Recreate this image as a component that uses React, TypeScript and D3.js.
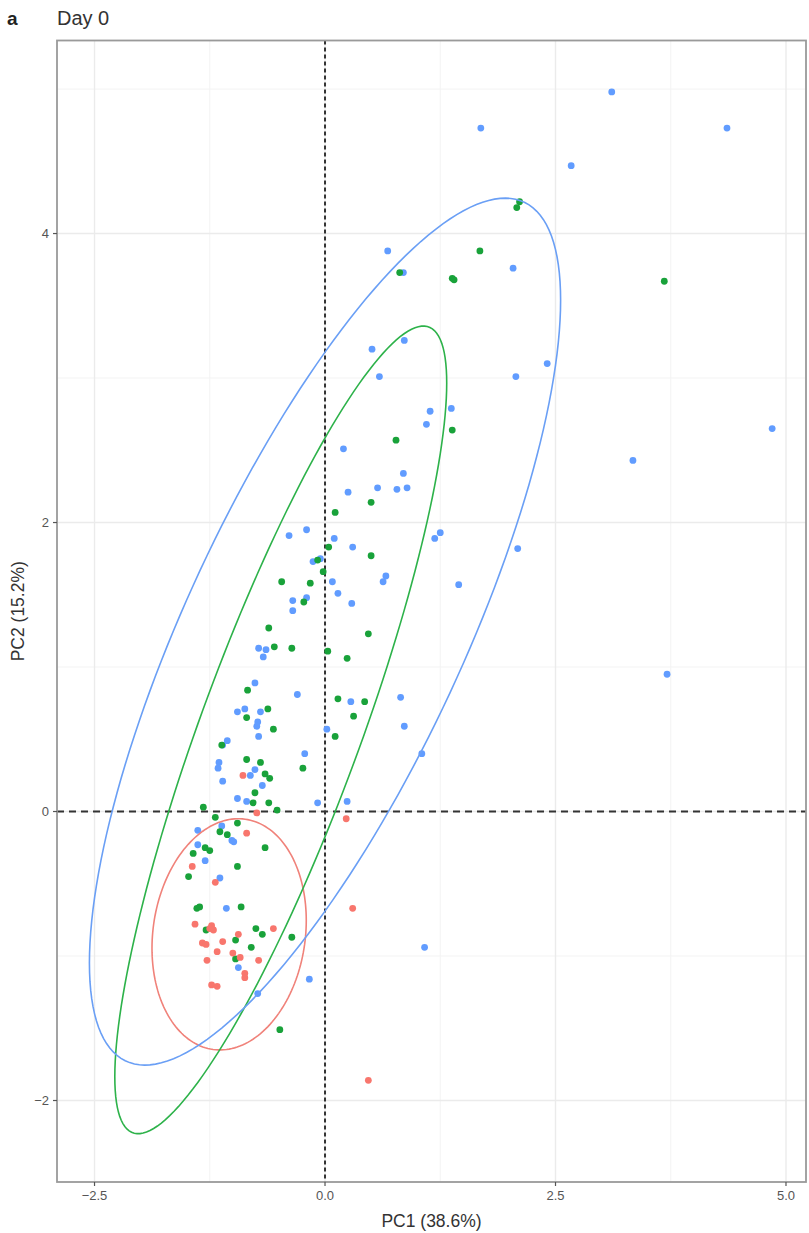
import React from 'react';
import * as d3 from 'd3';

// PC scores, one list per group
const redPoints: [number, number][] = [
  [-0.89, 0.25], [-0.74, -0.01], [0.23, -0.05], [-0.85, -0.15], [-1.44, -0.38],
  [-1.19, -0.49], [0.3, -0.67], [-1.41, -0.78], [-1.23, -0.79], [-1.25, -0.81],
  [-1.21, -0.82], [-0.56, -0.81], [-1.33, -0.91], [-1.29, -0.92], [-1.11, -0.9],
  [-0.94, -0.85], [-1.17, -0.97], [-1.0, -0.98], [-0.92, -1.01], [-1.28, -1.03],
  [-0.72, -1.03], [-0.87, -1.12], [-0.87, -1.15], [-1.23, -1.2], [-1.17, -1.21],
  [0.47, -1.86],
];

const greenPoints: [number, number][] = [
  [3.68, 3.67], [2.08, 4.18], [2.11, 4.22], [1.68, 3.88], [0.81, 3.73],
  [1.38, 3.69], [1.4, 3.68], [1.38, 2.64], [0.77, 2.57], [0.5, 2.14],
  [0.11, 2.07], [0.04, 1.83], [0.5, 1.77], [-0.08, 1.74], [-0.02, 1.66],
  [-0.16, 1.58], [-0.47, 1.59], [-0.23, 1.45], [-0.61, 1.27], [-0.55, 1.14],
  [-0.36, 1.13], [0.03, 1.11], [0.24, 1.06], [0.47, 1.23], [-0.84, 0.84],
  [-0.85, 0.65], [-0.62, 0.71], [-0.56, 0.57], [0.14, 0.78], [0.43, 0.76],
  [0.31, 0.66], [0.11, 0.52], [-1.12, 0.46], [-0.24, 0.3], [-0.85, 0.36],
  [-0.7, 0.34], [-0.65, 0.26], [-0.6, 0.23], [-0.76, 0.13], [-0.78, 0.06],
  [-0.61, 0.06], [-0.52, 0.01], [-1.32, 0.03], [-1.19, -0.04], [-0.95, -0.08],
  [-1.14, -0.14], [-1.06, -0.16], [-1.3, -0.25], [-1.25, -0.27], [-1.43, -0.29],
  [-0.65, -0.25], [-0.95, -0.38], [-1.48, -0.45], [-1.39, -0.67], [-1.36, -0.66],
  [-0.91, -0.66], [-1.29, -0.82], [-0.75, -0.81], [-0.68, -0.85], [-0.36, -0.87],
  [-0.97, -0.89], [-0.8, -0.94], [-0.97, -1.02], [-0.49, -1.51],
];

const bluePoints: [number, number][] = [
  [3.11, 4.98], [4.36, 4.73], [2.67, 4.47], [1.69, 4.73], [4.85, 2.65],
  [3.34, 2.43], [3.71, 0.95], [0.68, 3.88], [2.04, 3.76], [0.85, 3.73],
  [0.86, 3.26], [0.51, 3.2], [0.59, 3.01], [2.07, 3.01], [2.41, 3.1],
  [1.14, 2.77], [1.37, 2.79], [1.1, 2.68], [0.2, 2.51], [0.85, 2.34],
  [0.25, 2.21], [0.57, 2.24], [0.78, 2.23], [0.89, 2.24], [-0.2, 1.95],
  [0.1, 1.89], [0.3, 1.83], [1.19, 1.89], [1.25, 1.93], [2.09, 1.82],
  [-0.13, 1.73], [-0.05, 1.75], [0.08, 1.59], [0.63, 1.59], [0.66, 1.63],
  [1.45, 1.57], [0.14, 1.51], [-0.2, 1.48], [0.29, 1.44], [-0.39, 1.91],
  [-0.35, 1.46], [-0.35, 1.39], [-0.72, 1.13], [-0.64, 1.12], [-0.67, 1.07],
  [-0.76, 0.89], [-0.3, 0.81], [-0.95, 0.69], [-0.87, 0.71], [-0.7, 0.69],
  [-0.73, 0.62], [-0.74, 0.59], [-0.72, 0.52], [0.28, 0.76], [0.82, 0.79],
  [0.86, 0.59], [0.02, 0.57], [1.05, 0.4], [-1.06, 0.49], [-1.11, 0.46],
  [-0.22, 0.4], [-1.15, 0.34], [-1.16, 0.3], [-1.11, 0.21], [-0.81, 0.25],
  [-0.76, 0.29], [-0.68, 0.18], [-0.95, 0.09], [-0.85, 0.07], [-0.08, 0.06],
  [0.24, 0.07], [-1.38, -0.13], [-1.12, -0.1], [-1.01, -0.2], [-0.99, -0.21],
  [-1.38, -0.23], [-1.3, -0.34], [-1.14, -0.46], [-1.07, -0.67], [-0.94, -1.08],
  [-0.73, -1.26], [-0.17, -1.16], [1.08, -0.94],
];

// confidence ellipses: centre and covariance-like shape terms (data units)
const ellipses = [
  { group: 'red', cx: -1.04, cy: -0.85, sxx: 0.70, syy: 0.64, sxy: 0.08 },
  { group: 'green', cx: -0.48, cy: 0.565, sxx: 3.24, syy: 7.81, sxy: 4.32 },
  { group: 'blue', cx: 0.0, cy: 1.245, sxx: 6.53, syy: 9.0, sxy: 5.86 },
];

const xTicks = [-2.5, 0, 2.5, 5];
const yTicks = [-2, 0, 2, 4];
const xMinor = [-1.25, 1.25, 3.75];
const yMinor = [-1, 1, 3, 5];

const pointColors: Record<string, string> = {
  red: '#F8766D',
  green: '#19A23A',
  blue: '#619CFF',
};
const lineColors: Record<string, string> = {
  red: '#F0827A',
  green: '#2DB24A',
  blue: '#6A9FF5',
};

const W = 809;
const H = 1233;
const margin = { top: 40.5, right: 3, bottom: 51, left: 57 };

const App = () => {
  const x = d3.scaleLinear().domain([-2.907, 5.217]).range([margin.left, W - margin.right]);
  const y = d3.scaleLinear().domain([-2.564, 5.336]).range([H - margin.bottom, margin.top]);
  const [x0, x1] = x.range();
  const [y0, y1] = y.range();

  const line = d3
    .line<[number, number]>()
    .x((d) => x(d[0]))
    .y((d) => y(d[1]))
    .curve(d3.curveLinearClosed);

  const ellipsePath = (e: (typeof ellipses)[number]) => {
    const a = Math.sqrt(e.sxx);
    const c = e.sxy / a;
    const dd = Math.sqrt(Math.max(e.syy - c * c, 0));
    const pts = d3.range(0, 2 * Math.PI, Math.PI / 90).map(
      (t) => [e.cx + a * Math.cos(t), e.cy + c * Math.cos(t) + dd * Math.sin(t)] as [number, number]
    );
    return line(pts) || '';
  };

  const font = '"Liberation Sans", Arial, sans-serif';
  const groups: [string, [number, number][]][] = [
    ['blue', bluePoints],
    ['green', greenPoints],
    ['red', redPoints],
  ];

  return (
    <div style={{ position: 'absolute', left: 0, top: 0 }}>
      <svg width={W} height={H} style={{ display: 'block', background: '#fff' }}>
        <text x={7} y={25} fontFamily={font} fontWeight="bold" fontSize={19} fill="#222">
          a
        </text>
        <text x={57} y={25} fontFamily={font} fontSize={20} fill="#333">
          Day 0
        </text>

        {/* grid */}
        {xMinor.map((v) => (
          <line key={'xm' + v} x1={x(v)} x2={x(v)} y1={y1} y2={y0} stroke="#f3f3f3" strokeWidth={1} />
        ))}
        {yMinor.map((v) => (
          <line key={'ym' + v} x1={x0} x2={x1} y1={y(v)} y2={y(v)} stroke="#f3f3f3" strokeWidth={1} />
        ))}
        {xTicks.map((v) => (
          <line key={'xg' + v} x1={x(v)} x2={x(v)} y1={y1} y2={y0} stroke="#ebebeb" strokeWidth={1.4} />
        ))}
        {yTicks.map((v) => (
          <line key={'yg' + v} x1={x0} x2={x1} y1={y(v)} y2={y(v)} stroke="#ebebeb" strokeWidth={1.4} />
        ))}

        {/* reference lines */}
        <line x1={x0} x2={x1} y1={y(0)} y2={y(0)} stroke="#333" strokeWidth={2} strokeDasharray="7 5" />
        <line x1={x(0)} x2={x(0)} y1={y1} y2={y0} stroke="#333" strokeWidth={2} strokeDasharray="4 3" />

        {/* points */}
        {groups.map(([g, pts]) =>
          pts.map((p, i) => <circle key={g + i} cx={x(p[0])} cy={y(p[1])} r={3.4} fill={pointColors[g]} />)
        )}

        {/* ellipses */}
        {ellipses.map((e) => (
          <path key={e.group} d={ellipsePath(e)} fill="none" stroke={lineColors[e.group]} strokeWidth={1.6} />
        ))}

        {/* panel border */}
        <rect x={x0} y={y1} width={x1 - x0} height={y0 - y1} fill="none" stroke="#9a9a9a" strokeWidth={1.8} />

        {/* axes */}
        {xTicks.map((v) => (
          <g key={'xt' + v}>
            <line x1={x(v)} x2={x(v)} y1={y0} y2={y0 + 4} stroke="#555" strokeWidth={1.2} />
            <text x={x(v)} y={y0 + 18} textAnchor="middle" fontFamily={font} fontSize={13} fill="#555">
              {d3.format('.1f')(v)}
            </text>
          </g>
        ))}
        {yTicks.map((v) => (
          <g key={'yt' + v}>
            <line x1={x0 - 4} x2={x0} y1={y(v)} y2={y(v)} stroke="#555" strokeWidth={1.2} />
            <text x={x0 - 8} y={y(v) + 4.5} textAnchor="end" fontFamily={font} fontSize={13} fill="#555">
              {d3.format('d')(v)}
            </text>
          </g>
        ))}
        <text x={(x0 + x1) / 2} y={H - 6} textAnchor="middle" fontFamily={font} fontSize={17.5} fill="#333">
          PC1 (38.6%)
        </text>
        <text
          transform={`translate(${24}, ${(y0 + y1) / 2}) rotate(-90)`}
          textAnchor="middle"
          fontFamily={font}
          fontSize={17.5}
          fill="#333"
        >
          PC2 (15.2%)
        </text>
      </svg>
    </div>
  );
};

export default App;
